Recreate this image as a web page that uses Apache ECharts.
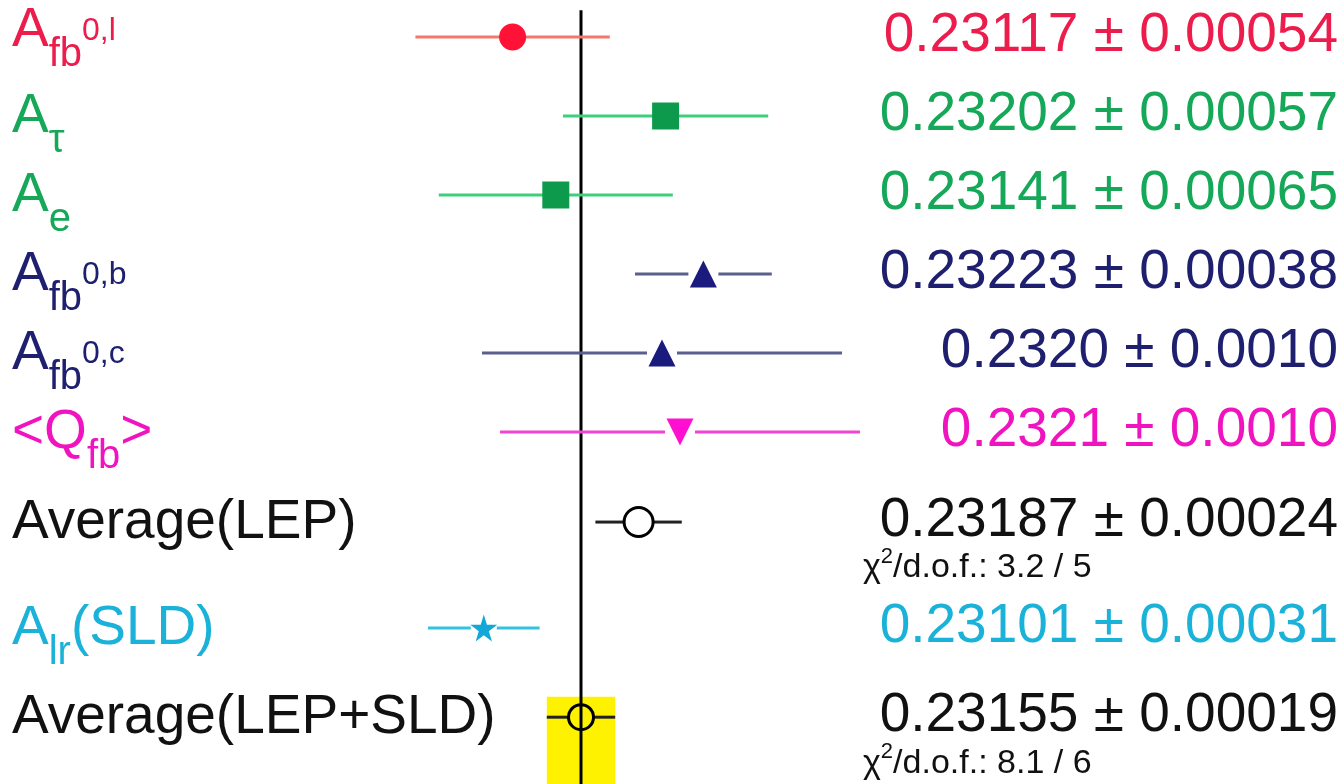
<!DOCTYPE html>
<html>
<head>
<meta charset="utf-8">
<script src="https://cdn.jsdelivr.net/npm/echarts@6/dist/echarts.min.js"></script>
<style>
  html, body { margin: 0; padding: 0; background: #ffffff; }
  #chart { width: 1344px; height: 784px; }
</style>
</head>
<body>
<div id="chart"></div>
<script>
// Measurements of sin²θ_eff^lept from the asymmetries, with LEP and LEP+SLD averages.
// Label pieces: [text, role] where role is main text, subscript or superscript.
const LABELS = [
  [['A', 'm'], ['fb', 'sub'], ['0,l', 'sup']],
  [['A', 'm'], ['τ', 'sub']],
  [['A', 'm'], ['e', 'sub']],
  [['A', 'm'], ['fb', 'sub'], ['0,b', 'sup']],
  [['A', 'm'], ['fb', 'sub'], ['0,c', 'sup']],
  [['<Q', 'm'], ['fb', 'sub'], ['>', 'm']],
  [['Average(LEP)', 'm']],
  [['A', 'm'], ['lr', 'sub'], ['(SLD)', 'm']],
  [['Average(LEP+SLD)', 'm']]
];
const VALUES   = [0.23117, 0.23202, 0.23141, 0.23223, 0.2320, 0.2321, 0.23187, 0.23101, 0.23155];
const ERRORS   = [0.00054, 0.00057, 0.00065, 0.00038, 0.0010, 0.0010, 0.00024, 0.00031, 0.00019];
const DECIMALS = [5, 5, 5, 5, 4, 4, 5, 5, 5];
const CHI2     = [null, null, null, null, null, null, '3.2 / 5', null, '8.1 / 6'];

// Index of the combined LEP+SLD average (drawn as the vertical reference line and band)
const AVG = VALUES.length - 1;

// ---- layout ----
const W = 1344, H = 784;
const PX_PER_UNIT = 180000;      // horizontal scale of the value axis
const CENTER_X = 581;            // where the combined average sits
const ROW_PX = 79, FIRST_ROW_Y = 37;
const ROW_POS = [0, 1, 2, 3, 4, 5, 6.14, 7.48, 8.61];   // vertical slots (row units)
const LINE_TOP = -0.34;          // top of the reference line (row units)
const BAND_TOP = 0.26;           // band starts this far above the last row

const RED = { text: '#ec1c4c', bar: '#f2786c', mark: '#ff1236' };
const GREEN = { text: '#14a858', bar: '#3ccf7c', mark: '#0e9a4c' };
const NAVY = { text: '#1e1f6e', bar: '#5a5f8e', mark: '#1b1b7e' };
const MAGENTA = { text: '#f014c0', bar: '#f044d4', mark: '#ff10d0' };
const BLACK = { text: '#111111', bar: '#222222', mark: '#000000' };
const CYAN = { text: '#1ab2d8', bar: '#34c2e4', mark: '#14a8d8' };

const STAR = 'path://M50,0 L61,35 L98,35 L68,57 L79,91 L50,70 L21,91 L32,57 L2,35 L39,35 Z';
const ROW_STYLE = [
  { c: RED,     symbol: 'circle',   size: 27, gap: 0,  labelDy: -7 },
  { c: GREEN,   symbol: 'rect',     size: 27, gap: 0 },
  { c: GREEN,   symbol: 'rect',     size: 27, gap: 0 },
  { c: NAVY,    symbol: 'triangle', size: 27, gap: 15 },
  { c: NAVY,    symbol: 'triangle', size: 27, gap: 15 },
  { c: MAGENTA, symbol: 'triangle', size: 27, gap: 15, rotate: 180 },
  { c: BLACK,   symbol: 'circle',   size: 29, gap: 15, hollow: true },
  { c: CYAN,    symbol: STAR,       size: 27, gap: 13 },
  { c: BLACK,   symbol: 'circle',   size: 25, gap: 13, hollow: true }
];

// ---- text helpers ----
const FAMILY = '"Liberation Sans", Arial, Helvetica, sans-serif';
const measureCtx = document.createElement('canvas').getContext('2d');
function fontOf(size) { return size + 'px ' + FAMILY; }
function textWidth(t, size) { measureCtx.font = fontOf(size); return measureCtx.measureText(t).width; }
function midOffset(size) {
  measureCtx.font = fontOf(size);
  const m = measureCtx.measureText('0');
  if (m.fontBoundingBoxAscent != null) return (m.fontBoundingBoxAscent - m.fontBoundingBoxDescent) / 2;
  return 0.35 * size;
}
// text element whose alphabetic baseline sits at `baseline`
function txt(str, x, baseline, size, color) {
  return {
    type: 'text', x: x, y: baseline - midOffset(size),
    style: {
      text: str, font: fontOf(size), fill: color, textFill: color,
      align: 'left', textAlign: 'left', verticalAlign: 'middle', textVerticalAlign: 'middle'
    }
  };
}

const MAIN = 55, SUB = 40, SUP = 32, CHI = 34, CHI_SUP = 22;
const LABEL_X = 12, VALUE_RIGHT = 1338, CHI_X = 863;
const ROLE = { m: { size: MAIN, dy: 0 }, sub: { size: SUB, dy: 19 }, sup: { size: SUP, dy: -8 } };

const rowData = VALUES.map((v, i) => [v, ROW_POS[i], i]);
const yMin = -FIRST_ROW_Y / ROW_PX, yMax = (H - FIRST_ROW_Y) / ROW_PX;
const avg = VALUES[AVG];

const chart = echarts.init(document.getElementById('chart'), null, { renderer: 'canvas' });
chart.setOption({
  animation: false,
  backgroundColor: '#ffffff',
  grid: { left: 0, right: 0, top: 0, bottom: 0, containLabel: false },
  xAxis: {
    type: 'value', show: false, scale: true,
    min: avg - CENTER_X / PX_PER_UNIT, max: avg + (W - CENTER_X) / PX_PER_UNIT
  },
  yAxis: { type: 'value', show: false, inverse: true, min: yMin, max: yMax },
  series: [
    { // band of the combined average uncertainty
      type: 'custom', z: 1, silent: true,
      data: [[avg, ROW_POS[AVG]]],
      encode: { x: 0, y: 1 },
      renderItem: function (params, api) {
        const a = api.coord([avg - ERRORS[AVG], ROW_POS[AVG] - BAND_TOP]);
        const b = api.coord([avg + ERRORS[AVG], yMax]);
        return { type: 'rect', shape: { x: a[0], y: a[1], width: b[0] - a[0], height: b[1] - a[1] },
                 style: { fill: '#fff200' } };
      }
    },
    { // reference line at the combined average
      type: 'custom', z: 2, silent: true,
      data: [[avg, LINE_TOP]],
      encode: { x: 0, y: 1 },
      renderItem: function (params, api) {
        const a = api.coord([avg, LINE_TOP]);
        const b = api.coord([avg, yMax]);
        return { type: 'line', shape: { x1: a[0], y1: a[1], x2: b[0], y2: b[1] },
                 style: { stroke: '#000000', lineWidth: 3 } };
      }
    },
    { // error bars
      type: 'custom', z: 3, silent: true,
      data: rowData,
      encode: { x: 0, y: 1 },
      renderItem: function (params, api) {
        const i = api.value(2);
        const v = api.value(0), r = api.value(1), e = ERRORS[i];
        const c = api.coord([v, r]);
        const lo = api.coord([v - e, r]);
        const hi = api.coord([v + e, r]);
        const gap = ROW_STYLE[i].gap;
        const st = { stroke: ROW_STYLE[i].c.bar, lineWidth: 3 };
        return {
          type: 'group',
          children: [
            { type: 'line', shape: { x1: lo[0], y1: c[1], x2: c[0] - gap, y2: c[1] }, style: st },
            { type: 'line', shape: { x1: c[0] + gap, y1: c[1], x2: hi[0], y2: c[1] }, style: st }
          ]
        };
      }
    },
    { // central values
      type: 'scatter', z: 4, silent: true,
      data: VALUES.map((v, i) => {
        const s = ROW_STYLE[i];
        return {
          value: [v, ROW_POS[i]],
          symbol: s.symbol,
          symbolSize: s.size,
          symbolRotate: s.rotate || 0,
          itemStyle: s.hollow
            ? { color: 'rgba(0,0,0,0)', borderColor: s.c.mark, borderWidth: 3, opacity: 1 }
            : { color: s.c.mark, opacity: 1 }
        };
      })
    },
    { // row labels, quoted results and fit quality
      type: 'custom', z: 5, silent: true,
      data: rowData,
      encode: { x: 0, y: 1 },
      renderItem: function (params, api) {
        const i = api.value(2);
        const color = ROW_STYLE[i].c.text;
        const y = api.coord([VALUES[i], ROW_POS[i]])[1];
        const children = [];

        // left label with sub/superscripts
        let x = LABEL_X;
        const base = y + 20 + (ROW_STYLE[i].labelDy || 0);
        LABELS[i].forEach(([t, role]) => {
          const R = ROLE[role];
          children.push(txt(t, x, base + R.dy, R.size, color));
          x += textWidth(t, R.size);
        });

        // right-aligned result
        const d = DECIMALS[i];
        const val = VALUES[i].toFixed(d) + ' ± ' + ERRORS[i].toFixed(d);
        children.push(txt(val, VALUE_RIGHT - textWidth(val, MAIN), y + 18, MAIN, color));

        // chi-square per degree of freedom under the averages
        if (CHI2[i]) {
          const cb = y + 58;
          let cx = CHI_X;
          children.push(txt('χ', cx, cb, CHI, color));
          cx += textWidth('χ', CHI);
          children.push(txt('2', cx, cb - 16, CHI_SUP, color));
          cx += textWidth('2', CHI_SUP);
          children.push(txt('/d.o.f.: ' + CHI2[i], cx, cb, CHI, color));
        }
        return { type: 'group', children: children };
      }
    }
  ]
});
</script>
</body>
</html>
